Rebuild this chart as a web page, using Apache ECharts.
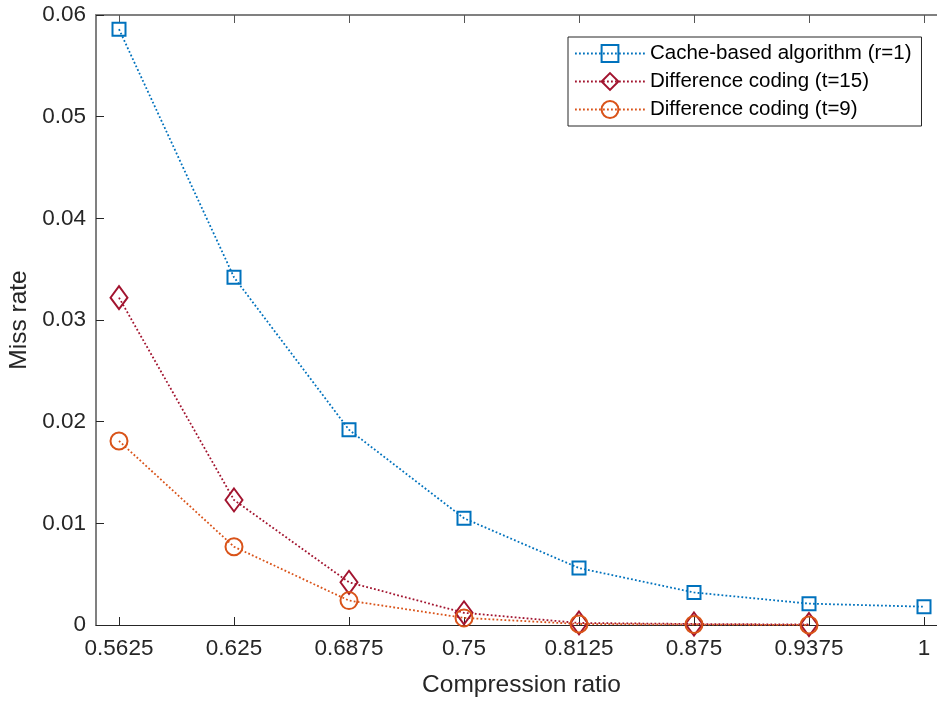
<!DOCTYPE html>
<html>
<head>
<meta charset="utf-8">
<script src="https://cdn.jsdelivr.net/npm/echarts@6/dist/echarts.min.js"></script>
<style>
html,body{margin:0;padding:0;background:#fff;}
#chart{width:937px;height:704px;}
</style>
</head>
<body>
<div id="chart"></div>
<script>
// ---- data ----
const ratios = [0.5625, 0.625, 0.6875, 0.75, 0.8125, 0.875, 0.9375, 1];
const xTickLabels = ['0.5625', '0.625', '0.6875', '0.75', '0.8125', '0.875', '0.9375', '1'];
const cacheBased = [0.0586, 0.0342, 0.0192, 0.0105, 0.0056, 0.0032, 0.0021, 0.0018];
const diffT15 = [0.0322, 0.0123, 0.0042, 0.0012, 0.0002, 0.0001, 0.00005];
const diffT9 = [0.0181, 0.0077, 0.0024, 0.0007, 0.0001, 0.00005, 0.0];
const seriesNames = ['Cache-based algorithm (r=1)', 'Difference coding (t=15)', 'Difference coding (t=9)'];
const yTicks = [0, 0.01, 0.02, 0.03, 0.04, 0.05, 0.06];

const FONT = '"Liberation Sans", Arial, Helvetica, sans-serif';
const TXT = '#262626';
const BLUE = '#0072BD', RED = '#A2142F', ORANGE = '#D95319';

function pairs(vals) { return vals.map((v, i) => [ratios[i], v]); }
const labelMap = {};
ratios.forEach((r, i) => { labelMap[r] = xTickLabels[i]; });

function mkSeries(name, vals, color, symbol, size) {
  return {
    name: name,
    type: 'line',
    data: pairs(vals),
    symbol: symbol,
    symbolSize: size,
    showAllSymbol: true,
    lineStyle: { color: color, width: 1.8, type: [1.8, 2.2] },
    itemStyle: { color: 'rgba(255,255,255,0)', borderColor: color, borderWidth: 2 },
    emphasis: { disabled: true },
    animation: false
  };
}

const chart = echarts.init(document.getElementById('chart'), null, { renderer: 'canvas' });
chart.setOption({
  backgroundColor: '#fff',
  animation: false,
  grid: { left: 96, top: 15, width: 851, height: 610, containLabel: false, outerBoundsMode: 'none' },
  xAxis: [{
    type: 'value',
    min: 0.55, max: 1.0125,
    position: 'bottom',
    axisLine: { show: true, onZero: false, lineStyle: { color: '#262626', width: 1 } },
    axisTick: { show: true, inside: true, length: 8, customValues: ratios, lineStyle: { color: '#262626', width: 1 } },
    axisLabel: { customValues: ratios, margin: 12, fontSize: 22.5, color: TXT, fontFamily: FONT,
      formatter: v => labelMap[v] !== undefined ? labelMap[v] : String(v) },
    splitLine: { show: false },
    name: 'Compression ratio', nameLocation: 'middle', nameGap: 48,
    nameTextStyle: { fontSize: 24.5, color: TXT, fontFamily: FONT }
  }, {
    type: 'value',
    min: 0.55, max: 1.0125,
    position: 'top',
    axisLine: { show: true, onZero: false, lineStyle: { color: '#808080', width: 2 } },
    axisTick: { show: true, inside: true, length: 8, customValues: ratios, lineStyle: { color: '#555', width: 1 } },
    axisLabel: { show: false },
    splitLine: { show: false }
  }],
  yAxis: [{
    type: 'value',
    min: 0, max: 0.06, interval: 0.01,
    axisLine: { show: true, onZero: false, lineStyle: { color: '#808080', width: 2 } },
    axisTick: { show: true, inside: true, length: 8, lineStyle: { color: '#262626', width: 1 } },
    axisLabel: { margin: 10, fontSize: 22.5, color: TXT, fontFamily: FONT,
      formatter: v => { const t = yTicks.find(x => Math.abs(x - v) < 1e-9); return t === 0 ? '0' : String(+v.toFixed(2)); } },
    splitLine: { show: false },
    name: 'Miss rate', nameLocation: 'middle', nameGap: 58, nameRotate: 90,
    nameTextStyle: { fontSize: 24.5, color: TXT, fontFamily: FONT }
  }],
  legend: {
    orient: 'vertical',
    left: 568, top: 37,
    padding: [6, 10, 6, 6],
    itemGap: 7,
    itemWidth: 70, itemHeight: 21,
    backgroundColor: '#fff',
    borderColor: '#262626', borderWidth: 1,
    textStyle: { fontSize: 20.5, color: '#000', fontFamily: FONT, padding: [0, 0, 0, 0] },
    data: seriesNames
  },
  series: [
    mkSeries(seriesNames[0], cacheBased, BLUE, 'rect', 13),
    mkSeries(seriesNames[1], diffT15, RED, 'diamond', [17, 23]),
    mkSeries(seriesNames[2], diffT9, ORANGE, 'circle', 17)
  ]
});
</script>
</body>
</html>
